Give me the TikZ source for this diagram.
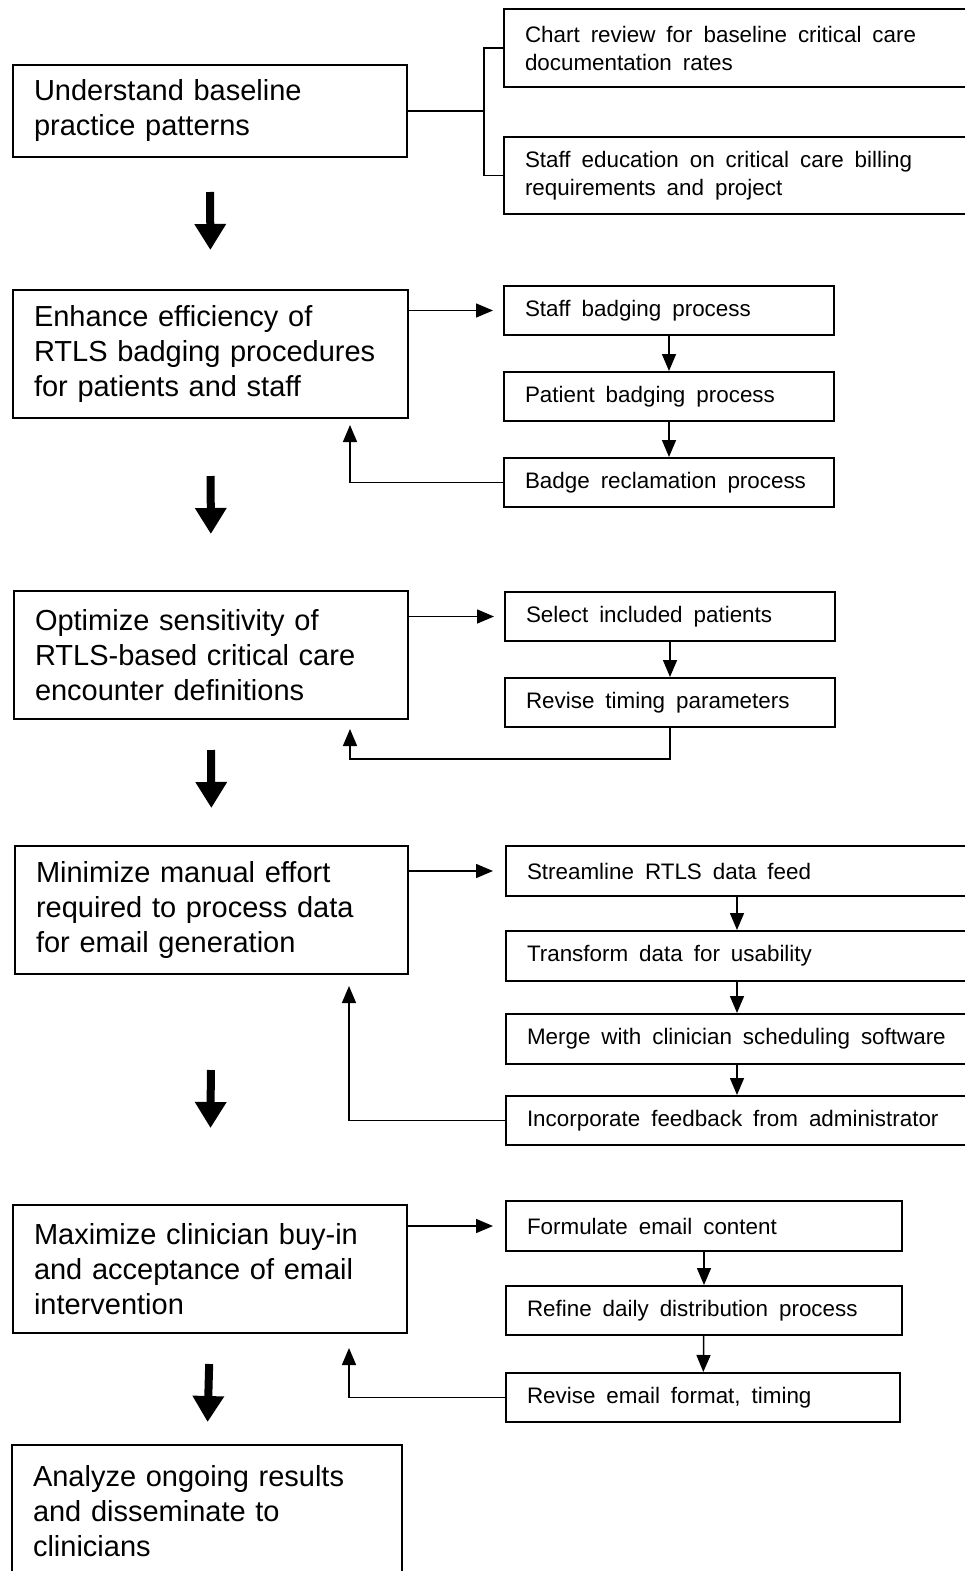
\documentclass[tikz,border=0pt]{standalone}
\usepackage{fontspec}
\setmainfont{Liberation Sans}
\usetikzlibrary{arrows.meta}
\newcommand{\widesp}{\spaceskip=11pt plus 2pt minus 1pt\relax}
\tikzset{
  stage/.style={draw, line width=2pt, anchor=north west, align=left, inner xsep=21pt, minimum height=128pt, font=\fontsize{29}{35}\selectfont},
  task/.style={draw, line width=2pt, anchor=north west, align=left, inner xsep=21pt, minimum height=50pt, font=\fontsize{22.4}{28}\selectfont, execute at begin node=\widesp},
  flow/.style={-{Triangle[width=14pt,length=17pt]}, line width=1.5pt},
  bigarrow/.style={-{Triangle[width=30pt,length=26pt]}, line width=8pt},
}

\begin{document}
\begin{tikzpicture}[x=1pt, y=-1pt]
  \useasboundingbox (0,0) rectangle (965,1571);
  \clip (0,0) rectangle (965,1571);

  % stages on the left
  \node[stage, text width=352pt, minimum height=92pt] (understand) at (12,64) {Understand baseline\\practice patterns};
  \node[stage, text width=353pt] (enhance) at (12,289) {Enhance efficiency of\\RTLS badging procedures\\for patients and staff};
  \node[stage, text width=352pt] (optimize) at (13,590) {Optimize sensitivity of\\RTLS-based critical care\\encounter definitions};
  \node[stage, text width=351pt] (minimize) at (14,845) {Minimize manual effort\\required to process data\\for email generation};
  \node[stage, text width=352pt] (maximize) at (12,1204) {Maximize clinician buy-in\\and acceptance of email\\intervention};
  \node[stage, text width=348pt, minimum height=132pt] (analyze) at (11,1444) {Analyze ongoing results\\and disseminate to\\clinicians};

  % tasks on the right
  \node[task, text width=440pt, minimum height=78pt] (chart) at (503,8) {Chart review for baseline critical care\\documentation rates};
  \node[task, text width=440pt, minimum height=77pt] (educ) at (503,136) {Staff education on critical care billing\\requirements and project};

  \node[task, text width=288pt, minimum height=49pt] (staffb) at (503,285) {Staff badging process};
  \node[task, text width=288pt, minimum height=49pt] (patientb) at (503,371) {Patient badging process};
  \node[task, text width=288pt, minimum height=49pt] (reclaim) at (503,457) {Badge reclamation process};

  \node[task, text width=288pt, minimum height=49pt] (select) at (504,591) {Select included patients};
  \node[task, text width=288pt, minimum height=49pt] (timing) at (504,677) {Revise timing parameters};

  \node[task, text width=420pt] (stream) at (505,845) {Streamline RTLS data feed};
  \node[task, text width=420pt] (transform) at (505,930) {Transform data for usability};
  \node[task, text width=420pt] (merge) at (505,1013) {Merge with clinician scheduling software};
  \node[task, text width=420pt, minimum height=49pt] (incorp) at (505,1095) {Incorporate feedback from administrator};

  \node[task, text width=354pt] (formulate) at (505,1200) {Formulate email content};
  \node[task, text width=354pt, minimum height=49pt] (refine) at (505,1285) {Refine daily distribution process};
  \node[task, text width=352pt, minimum height=49pt] (revfmt) at (505,1372) {Revise email format, timing};

  % big arrows between stages
  \draw[bigarrow, shorten <=34pt, shorten >=39pt] (understand.south) -- (enhance.north);
  \draw[bigarrow, shorten <=57pt, shorten >=56pt] (enhance.south) -- (optimize.north);
  \draw[bigarrow, shorten <=30pt, shorten >=37pt] (optimize.south) -- (minimize.north);
  \draw[bigarrow, shorten <=95pt, shorten >=76pt] (minimize.south) -- (maximize.north);
  \draw[bigarrow, shorten <=30pt, shorten >=22pt] (maximize.south) -- (analyze.north);

  % bracket to the first tasks
  \draw[line width=1.5pt] (understand.east) -- ++(76,0) coordinate (fork);
  \draw[line width=1.5pt] (chart.west) -| (fork) |- (educ.west);

  % badging
  \draw[flow, shorten >=10pt] (enhance.east |- staffb.west) -- (staffb.west);
  \draw[flow] (staffb) -- (patientb);
  \draw[flow] (patientb) -- (reclaim);
  \draw[flow, shorten >=6pt] (reclaim.west) -| ([xshift=-59pt]enhance.south east);

  % sensitivity
  \draw[flow, shorten >=10pt] (optimize.east |- select.west) -- (select.west);
  \draw[flow] (select) -- (timing);
  \draw[flow, shorten >=9pt] (timing.south) -- ++(0,31) -| ([xshift=-59pt]optimize.south east);

  % data processing
  \draw[flow, shorten >=12pt] (minimize.east |- stream.west) -- (stream.west);
  \draw[flow] (stream) -- (transform);
  \draw[flow] (transform) -- (merge);
  \draw[flow] (merge) -- (incorp);
  \draw[flow, shorten >=11pt] (incorp.west) -| ([xshift=-60pt]minimize.south east);

  % clinician buy-in
  \draw[flow, shorten >=12pt] (maximize.east |- formulate.west) -- (formulate.west);
  \draw[flow] (formulate) -- (refine);
  \draw[flow] (refine) -- (revfmt);
  \draw[flow, shorten >=14pt] (revfmt.west) -| ([xshift=-59pt]maximize.south east);
\end{tikzpicture}
\end{document}
